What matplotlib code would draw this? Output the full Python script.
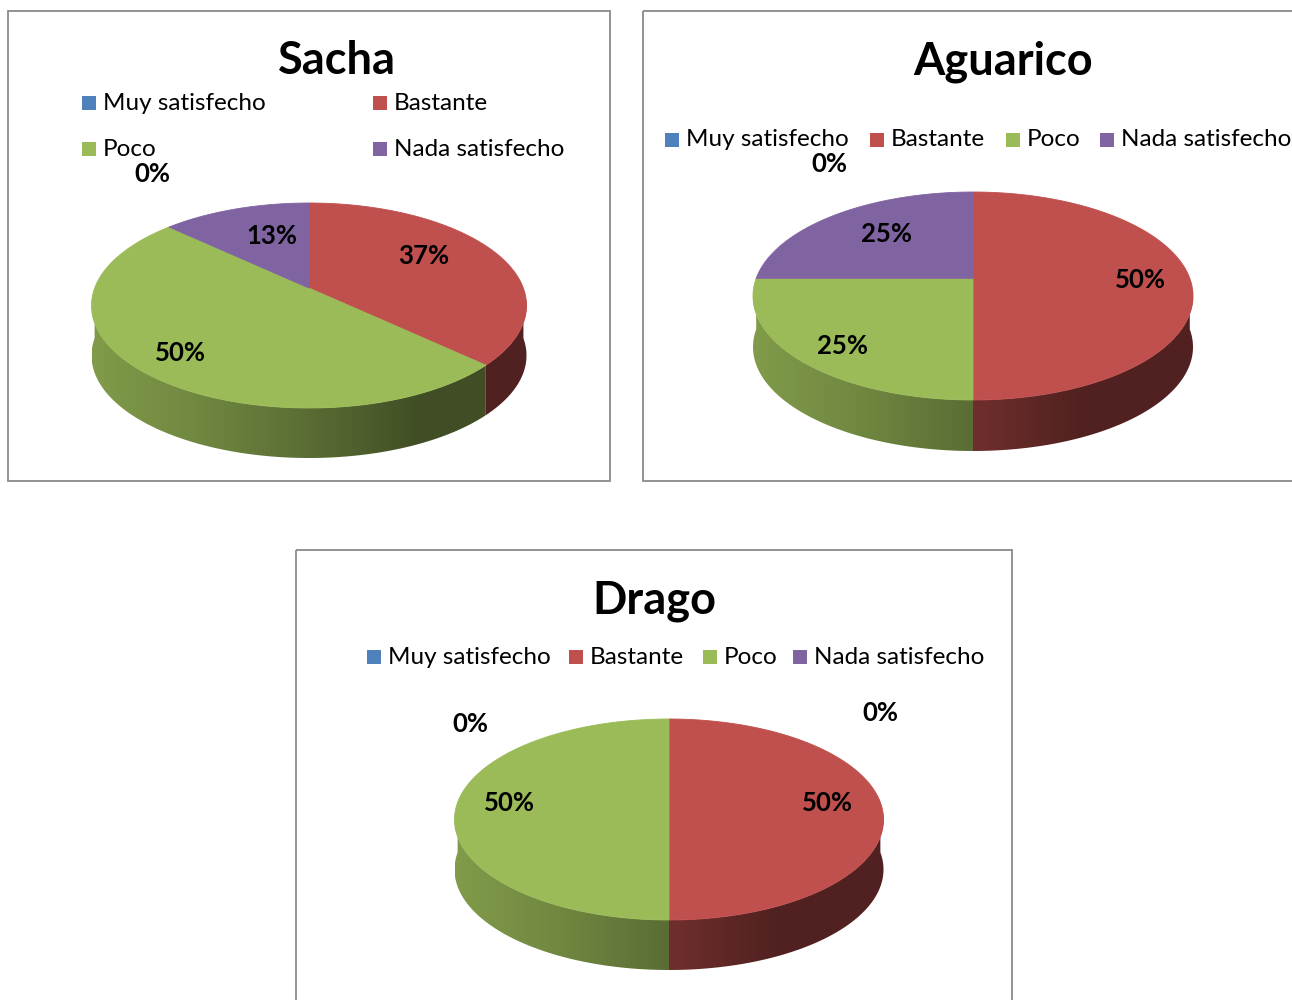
import numpy as np
import matplotlib
matplotlib.use('Agg')
import matplotlib.pyplot as plt
from matplotlib.patches import Polygon, Rectangle
from matplotlib.colors import to_rgb

# ---------------- data ----------------
categories = ['Muy satisfecho', 'Bastante', 'Poco', 'Nada satisfecho']
colors = ['#4F81BD', '#C0504D', '#9BBB59', '#8064A2']
titles = ['Sacha', 'Aguarico', 'Drago']
sacha = [0, 37, 50, 13]
aguarico = [0, 50, 25, 25]
drago = [0, 50, 50, 0]
series = [sacha, aguarico, drago]

# ---------------- layout (pixels) ----------------
FONT = 'Lato'
W, H = 1292, 1000
panels = [(8, 11, 602, 470), (643, 11, 670, 470), (296, 550, 716, 470)]
# cx, cy (ellipse centre), rx, ry, depth
geoms = [(309, 305.5, 217.5, 102.5, 50),
         (973, 296, 220, 104, 51),
         (669, 819.5, 214.5, 100.5, 50)]
title_pos = [(337, 61), (1003, 62), (654, 601)]
legend_pos = [
    [(82, 103), (373, 103), (82, 149), (373, 149)],
    [(665, 140), (870, 140), (1006, 140), (1100, 140)],
    [(367, 657), (569, 657), (703, 657), (793, 657)],
]
label_pos = [
    [(152, 174), (424, 256), (180, 353), (272, 236)],
    [(829, 164), (1140, 280), (842, 346), (886, 234)],
    [(880, 713), (827, 803), (509, 803), (470, 724)],
]
PERSP = 0.17

fig = plt.figure(figsize=(W / 100, H / 100), dpi=100)
ax = fig.add_axes([0, 0, 1, 1])
ax.set_xlim(0, W)
ax.set_ylim(H, 0)
ax.axis('off')


def project(theta_deg, r, g):
    cx, cy, rx, ry, _ = g
    a = PERSP
    th = np.radians(theta_deg)
    u = r * np.cos(th)
    v = r * np.sin(th)
    w = 1 + a * v
    x = u / w
    y = v / w
    yc = -a / (1 - a * a)
    X = cx + rx * np.sqrt(1 - a * a) * x
    Y = cy - ry * (1 - a * a) * (y - yc)
    return X, Y


def shade(t):
    return np.interp(t, [-1, -0.5, 0, 0.5, 1], [0.83, 0.72, 0.58, 0.42, 0.42])


for k, vals in enumerate(series):
    g = geoms[k]
    cx, cy, rx, ry, depth = g
    px, py, pw, ph = panels[k]
    ax.add_patch(Rectangle((px, py), pw, ph, fill=False, ec='#8a8a8a', lw=1.3, zorder=1))
    total = float(sum(vals))
    cum = 0.0
    # gradient coordinates across the pie width
    xs = np.linspace(cx - rx, cx + rx, 400)
    tvals = (xs - cx) / rx
    for i, v in enumerate(vals):
        th0 = 90 - 360 * cum / total
        cum += v
        th1 = 90 - 360 * cum / total
        if v <= 0:
            continue
        base = np.array(to_rgb(colors[i]))
        n = max(int(abs(th0 - th1) * 4), 8)
        ths = np.linspace(th0, th1, n + 1)
        X, Y = project(ths, 1.0, g)
        # top face
        pts = [project(0, 0.0, g)] + list(zip(X, Y))
        ax.add_patch(Polygon(pts, closed=True, fc=base, ec=base, lw=0.6, zorder=3))
        # side wall: contiguous runs of the arc on the front half
        front = np.sin(np.radians(ths)) <= 1e-9
        runs, cur = [], []
        for j in range(len(ths)):
            if front[j]:
                cur.append(j)
            elif cur:
                runs.append(cur)
                cur = []
        if cur:
            runs.append(cur)
        grad = np.clip(base[None, :] * shade(tvals)[:, None], 0, 1)[None, :, :]
        for run in runs:
            if len(run) < 2:
                continue
            tx = X[run]
            ty = Y[run]
            poly = list(zip(tx, ty)) + list(zip(tx[::-1], ty[::-1] + depth))
            clip = Polygon(poly, closed=True, fc='none', ec='none', transform=ax.transData)
            ax.add_patch(clip)
            im = ax.imshow(grad, extent=(cx - rx, cx + rx, cy + ry + depth + 5, cy - 5),
                           aspect='auto', interpolation='bilinear', zorder=2)
            im.set_clip_path(clip)
            # thin outline in same shade to avoid hairline gaps
            ax.add_patch(Polygon(poly, closed=True, fc='none',
                                 ec=np.clip(base * shade(0), 0, 1), lw=0.0, zorder=2))
    ax.set_xlim(0, W)
    ax.set_ylim(H, 0)

    # labels
    for i, v in enumerate(vals):
        lx, ly = label_pos[k][i]
        ax.text(lx, ly, f'{v}%', ha='center', va='center', fontsize=18.5,
                fontweight='bold', family=FONT, color='black', zorder=5)

    # title
    tx, ty = title_pos[k]
    ax.text(tx, ty, titles[k], ha='center', va='center', fontsize=32.5,
            fontweight='bold', family=FONT, color='black', zorder=5)

    # legend
    for i, cat in enumerate(categories):
        mx, my = legend_pos[k][i]
        ax.add_patch(Rectangle((mx, my - 7), 14, 14, fc=colors[i], ec='none', zorder=5))
        ax.text(mx + 21, my, cat, ha='left', va='center', fontsize=17.5,
                family=FONT, color='black', zorder=5)

ax.set_xlim(0, W)
ax.set_ylim(H, 0)
fig.savefig('out.png', dpi=100, facecolor='white')
